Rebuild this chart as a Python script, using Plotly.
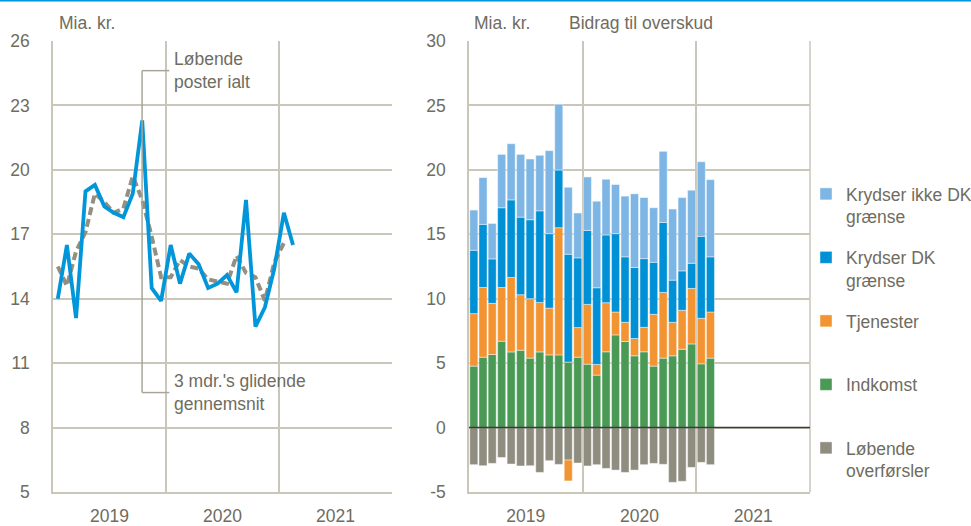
import plotly.graph_objects as go
from plotly.subplots import make_subplots

# ---------------- data ----------------
months = ["2019-01", "2019-02", "2019-03", "2019-04", "2019-05", "2019-06",
          "2019-07", "2019-08", "2019-09", "2019-10", "2019-11", "2019-12",
          "2020-01", "2020-02", "2020-03", "2020-04", "2020-05", "2020-06",
          "2020-07", "2020-08", "2020-09", "2020-10", "2020-11", "2020-12",
          "2021-01", "2021-02"]

lobende_poster = [14.0, 16.5, 13.1, 19.0, 19.3, 18.3, 18.0, 17.8, 18.9, 22.3,
                  14.5, 13.9, 16.5, 14.7, 16.1, 15.6, 14.5, 14.7, 15.1, 14.3,
                  18.6, 12.7, 13.6, 15.4, 18.0, 16.5]

glidende_months = months[:25]
glidende = [15.5, 14.6, 16.2, 17.1, 18.9, 18.5, 18.0, 18.2, 19.7, 18.6,
            16.9, 15.0, 15.0, 15.8, 15.5, 15.4, 14.9, 14.8, 14.7, 16.0,
            15.2, 15.0, 13.9, 15.7, 16.6]

indkomst = [4.77, 5.46, 5.67, 6.70, 5.87, 6.00, 5.39, 5.87, 5.64, 5.64,
            5.08, 5.46, 4.92, 4.07, 5.88, 7.19, 6.68, 5.57, 5.88, 4.77,
            5.39, 5.57, 6.08, 6.49, 4.95, 5.39]
tjenester = [4.07, 5.41, 3.97, 4.17, 5.78, 4.31, 4.61, 3.84, 3.63, 9.87,
             -1.62, 2.30, 4.64, 0.83, 3.81, 1.78, 1.49, 1.34, 1.90, 4.02,
             5.10, 2.60, 3.02, 4.31, 3.53, 3.58]
krydser_dk = [4.92, 4.90, 3.45, 6.19, 6.02, 6.02, 6.13, 7.11, 5.78, 4.48,
              8.37, 5.41, 5.74, 5.95, 5.26, 6.08, 5.08, 5.51, 5.33, 4.04,
              5.43, 3.27, 3.06, 1.95, 6.36, 4.28]
krydser_ikke_dk = [3.12, 3.63, 2.75, 4.14, 4.36, 4.87, 4.71, 4.31, 6.44, 5.10,
                   5.20, 3.48, 4.15, 6.72, 4.32, 3.81, 4.71, 5.72, 4.74, 4.23,
                   5.52, 5.52, 5.69, 5.67, 5.79, 5.99]
overforsler = [-2.88, -2.96, -2.78, -2.32, -2.83, -2.98, -2.96, -3.48, -2.57, -2.86,
               -2.52, -2.75, -2.98, -2.88, -3.17, -3.30, -3.48, -3.30, -2.88, -2.78,
               -2.85, -4.25, -4.17, -3.09, -2.70, -2.88]

left_ticks = [5, 8, 11, 14, 17, 20, 23, 26]
right_ticks = [-5, 0, 5, 10, 15, 20, 25, 30]
right_ticktext = ["-5", "0", "5", "10", "15", "20", "25", "30"]

# ---------------- style ----------------
FONT = "Liberation Sans, Arial, sans-serif"
FS = 17.5
TXT = "#6f6c60"
GRID = "#c9c6ba"
C_LB = "#7db6e4"
C_DB = "#0090d6"
C_OR = "#f39433"
C_GR = "#4a9a56"
C_GY = "#8f8d7f"
C_LINE = "#0096d9"
C_DASH = "#938f81"

W, H = 971, 526
ML, MR, MT, MB = 53, 161, 41, 34
PW = W - ML - MR
PH = H - MT - MB

fig = make_subplots(rows=1, cols=2, horizontal_spacing=0.0)

fig.add_trace(go.Scatter(x=glidende_months, y=glidende, mode="lines",
                         xperiod="M1", xperiodalignment="middle",
                         line=dict(color=C_DASH, width=4, dash="8px,4px"),
                         showlegend=False), row=1, col=1)
fig.add_trace(go.Scatter(x=months, y=lobende_poster, mode="lines",
                         xperiod="M1", xperiodalignment="middle",
                         line=dict(color=C_LINE, width=3.8),
                         showlegend=False), row=1, col=1)

bar_series = [
    ("Løbende<br>overførsler", overforsler, C_GY, 5),
    ("Indkomst<br> ", indkomst, C_GR, 4),
    ("Tjenester<br> ", tjenester, C_OR, 3),
    ("Krydser DK<br>grænse", krydser_dk, C_DB, 2),
    ("Krydser ikke DK<br>grænse", krydser_ikke_dk, C_LB, 1),
]
for name, vals, col, rank in bar_series:
    fig.add_trace(go.Bar(x=months, y=vals, name=name, marker_color=col,
                         xperiod="M1", xperiodalignment="middle",
                         marker_line=dict(color="rgba(255,255,255,0.55)", width=0.8),
                         legendrank=rank, legendgroup=name),
                  row=1, col=2)

left_dom = [0, (392 - ML) / PW]
right_dom = [(469 - ML) / PW, 1]

xcommon = dict(type="date", range=["2019-01-01", "2022-01-01"],
               dtick="M12", tick0="2019-01-01", tickformat="%Y",
               ticklabelmode="period", showgrid=True, gridcolor=GRID, gridwidth=1.5,
               showline=True, linecolor=GRID, linewidth=1.5, ticks="",
               ticklabelstandoff=7, automargin=False,
               tickfont=dict(family=FONT, size=FS, color=TXT), zeroline=False)
fig.update_xaxes(**xcommon)
fig.update_layout(xaxis=dict(domain=left_dom), xaxis2=dict(domain=right_dom))

ycommon = dict(showgrid=True, gridcolor=GRID, gridwidth=1.5,
               showline=True, linecolor=GRID, linewidth=1.5, ticks="",
               ticklabelstandoff=18, automargin=False,
               tickfont=dict(family=FONT, size=FS, color=TXT))
fig.update_yaxes(**ycommon)
fig.update_layout(
    yaxis=dict(range=[5, 26], tickvals=left_ticks, zeroline=False),
    yaxis2=dict(range=[-5, 30], tickvals=right_ticks, ticktext=right_ticktext,
                zeroline=False),
)

fig.update_layout(
    width=W, height=H,
    margin=dict(l=ML, r=MR, t=MT, b=MB, autoexpand=False),
    paper_bgcolor="white", plot_bgcolor="white",
    barmode="relative", bargap=0.12,
    font=dict(family=FONT, size=FS, color=TXT),
    legend=dict(x=(806 - ML) / PW, xanchor="left", y=(492 - 176) / PH, yanchor="top",
                valign="top", tracegroupgap=15, itemclick=False,
                font=dict(family=FONT, size=FS, color=TXT),
                bgcolor="rgba(0,0,0,0)", itemwidth=30),
    showlegend=True,
)

# top blue rule
fig.add_shape(type="line", xref="paper", yref="paper",
              x0=-ML / PW, x1=1 + MR / PW, y0=1 + (MT - 0.8) / PH, y1=1 + (MT - 0.8) / PH,
              line=dict(color="#0096d9", width=1.6))

# right border of the right chart
fig.add_shape(type="line", xref="x2 domain", yref="y2 domain", x0=1, x1=1, y0=0, y1=1,
              line=dict(color=GRID, width=1.5), layer="below")

# zero line of right chart, drawn above the bars
fig.add_shape(type="line", xref="x2 domain", yref="y2", x0=0, x1=1, y0=0, y1=0,
              line=dict(color="#3a3a3a", width=1.5), layer="above")

# annotation connector (left chart)
conn = dict(color="#a9a699", width=1.5)
fig.add_shape(type="line", xref="x", yref="y", x0="2019-10-16", x1="2019-10-16",
              y0=24.62, y1=9.63, line=conn, layer="above")
fig.add_shape(type="line", xref="x", yref="y", x0="2019-10-16", x1="2020-01-12",
              y0=24.62, y1=24.62, line=conn, layer="above")
fig.add_shape(type="line", xref="x", yref="y", x0="2019-10-16", x1="2020-01-12",
              y0=9.63, y1=9.63, line=conn, layer="above")

annots = [
    dict(text="Løbende<br>poster ialt", xref="x", yref="y", x="2020-01-22", y=24.62,
         xanchor="left", yanchor="middle", align="left"),
    dict(text="3 mdr.'s glidende<br>gennemsnit", xref="x", yref="y", x="2020-01-22", y=9.63,
         xanchor="left", yanchor="middle", align="left"),
    dict(text="Mia. kr.", xref="paper", yref="paper", x=(57 - ML) / PW, y=1 + (MT - 23) / PH,
         xanchor="left", yanchor="middle"),
    dict(text="Mia. kr.", xref="paper", yref="paper", x=(472 - ML) / PW, y=1 + (MT - 23) / PH,
         xanchor="left", yanchor="middle"),
    dict(text="Bidrag til overskud", xref="paper", yref="paper", x=(567 - ML) / PW,
         y=1 + (MT - 23) / PH, xanchor="left", yanchor="middle"),
]
for a in annots:
    fig.add_annotation(showarrow=False, font=dict(family=FONT, size=FS, color=TXT), **a)

fig.write_html("out.html",
               config={"displayModeBar": False},
               post_script="document.body.style.margin='0px';"
                           "document.body.style.overflow='hidden';")
